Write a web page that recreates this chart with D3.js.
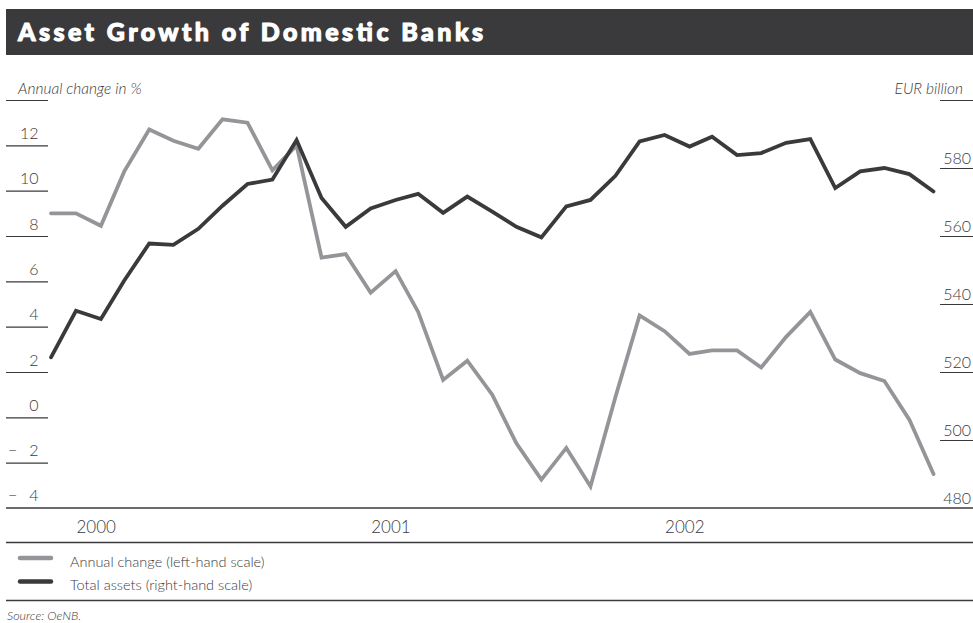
<!DOCTYPE html>
<html>
<head>
<meta charset="utf-8">
<script src="https://cdn.jsdelivr.net/npm/d3@7"></script>
<style>
  html, body { margin: 0; padding: 0; background: #fff; }
  svg { display: block; }
  text { font-family: Lato, "Open Sans", "DejaVu Sans", sans-serif; fill: #3a3a3c; }
</style>
</head>
<body>
<svg id="chart" width="973" height="623"></svg>
<script>
// Monthly observations, December 1999 to December 2002
const startMonth = new Date(1999, 11, 1);
const endMonth = new Date(2002, 11, 1);
const months = d3.timeMonth.range(startMonth, d3.timeMonth.offset(endMonth, 1));

// Annual change in %, left-hand scale
const annualChange = [
  9.0, 9.0, 8.45, 10.85, 12.7, 12.2, 11.85, 13.15, 13.0, 10.9,
  12.0, 7.05, 7.2, 5.5, 6.45, 4.65, 1.65, 2.5, 1.0, -1.15,
  -2.75, -1.35, -3.05, 0.9, 4.5, 3.8, 2.8, 2.95, 2.95, 2.2,
  3.55, 4.65, 2.55, 1.95, 1.6, -0.1, -2.5
];

// Total assets in EUR billion, right-hand scale
const totalAssets = [
  524.3, 538.0, 535.6, 546.9, 557.8, 557.4, 562.1, 568.9, 575.3, 576.6,
  588.2, 571.2, 562.7, 568.1, 570.6, 572.4, 566.8, 571.6, 567.2, 562.7,
  559.6, 568.7, 570.6, 577.7, 587.8, 589.7, 586.3, 589.2, 583.8, 584.4,
  587.4, 588.5, 574.1, 579.0, 580.0, 578.2, 573.1
];

const leftTicks = [-4, -2, 0, 2, 4, 6, 8, 10, 12, 14];
const rightTicks = [480, 500, 520, 540, 560, 580, 600];
const yearTicks = [new Date(2000, 0, 1), new Date(2001, 0, 1), new Date(2002, 0, 1)];

const seriesNames = ["Annual change (left-hand scale)", "Total assets (right-hand scale)"];
const titleText = "Asset Growth of Domestic Banks";
const leftUnit = "Annual change in %";
const rightUnit = "EUR billion";
const sourceText = "Source: OeNB.";

const colorChange = "#939598";
const colorAssets = "#3a3a3c";
const ruleColor = "#3a3a3c";

const svg = d3.select("#chart");
const W = 973;

// Title bar
svg.append("rect")
  .attr("x", 6).attr("y", 9).attr("width", W - 6).attr("height", 46)
  .attr("fill", "#3a3a3c");
svg.append("text")
  .attr("x", 18).attr("y", 41)
  .attr("textLength", 465).attr("lengthAdjust", "spacing")
  .style("font-size", "25px").style("font-weight", 900)
  .style("fill", "#ffffff")
  .style("stroke", "#ffffff").style("stroke-width", 1.1).style("stroke-linejoin", "round")
  .text(titleText);

// Scales
const plotTop = 100, plotBottom = 508;
const x = d3.scaleTime().domain([startMonth, endMonth]).range([51, 933.5]);
const yLeft = d3.scaleLinear().domain([-4, 14]).range([plotBottom, plotTop]);
const yRight = d3.scaleLinear().domain([480, 600]).range([plotBottom, plotTop]);

const minusFmt = v => v < 0 ? "\u2212\u2003" + Math.abs(v) : String(v);
const tickFont = "16px";

// Left scale: short rules with the value written above each one
const leftAxis = d3.axisRight(yLeft)
  .tickValues(leftTicks.filter(v => v > -4))
  .tickSize(42)
  .tickFormat(v => v === 14 ? "" : minusFmt(v));
const gL = svg.append("g").attr("transform", "translate(6,0)").call(leftAxis);
gL.select(".domain").remove();
gL.selectAll(".tick line").attr("stroke", ruleColor).attr("stroke-width", 1.2);
gL.selectAll(".tick text")
  .attr("x", 32.5).attr("dy", null).attr("y", -7)
  .attr("text-anchor", "end")
  .style("font-size", tickFont).style("font-weight", 300)
  .style("fill", "#3a3a3c");

// Bottom-left label for -4 sits above the base rule
svg.append("text")
  .attr("x", 38.5).attr("y", plotBottom - 7)
  .attr("text-anchor", "end")
  .style("font-size", tickFont).style("font-weight", 300)
  .text(minusFmt(leftTicks[0]));

// Right scale
const rightAxis = d3.axisLeft(yRight)
  .tickValues(rightTicks.filter(v => v > 480))
  .tickSize(33)
  .tickFormat(v => v === 600 ? "" : String(v));
const gR = svg.append("g").attr("transform", `translate(${W},0)`).call(rightAxis);
gR.select(".domain").remove();
gR.selectAll(".tick line").attr("stroke", ruleColor).attr("stroke-width", 1.2);
gR.selectAll(".tick text")
  .attr("x", -2).attr("dy", null).attr("y", -4.5)
  .attr("text-anchor", "end")
  .style("font-size", tickFont).style("font-weight", 300)
  .style("fill", "#3a3a3c");
svg.append("text")
  .attr("x", W - 2).attr("y", plotBottom - 4.5)
  .attr("text-anchor", "end")
  .style("font-size", tickFont).style("font-weight", 300)
  .text(String(rightTicks[0]));

// Unit captions
svg.append("text")
  .attr("x", 18).attr("y", 94)
  .style("font-size", "15.5px").style("font-style", "italic").style("font-weight", 300)
  .text(leftUnit);
svg.append("text")
  .attr("x", 963).attr("y", 94).attr("text-anchor", "end")
  .style("font-size", "15.5px").style("font-style", "italic").style("font-weight", 300)
  .text(rightUnit);

// Base rule and year labels
svg.append("line")
  .attr("x1", 6).attr("x2", W).attr("y1", plotBottom).attr("y2", plotBottom)
  .attr("stroke", ruleColor).attr("stroke-width", 1.4);

const xAxis = d3.axisBottom(x)
  .tickValues(yearTicks)
  .tickSize(0)
  .tickFormat(d3.timeFormat("%Y"));
const gX = svg.append("g").attr("transform", `translate(0,${plotBottom})`).call(xAxis);
gX.select(".domain").remove();
gX.selectAll(".tick text")
  .attr("text-anchor", "start").attr("dy", null).attr("y", 25)
  .style("font-size", "17px").style("font-weight", 300)
  .style("fill", "#3a3a3c");

svg.append("line")
  .attr("x1", 6).attr("x2", W).attr("y1", 542.5).attr("y2", 542.5)
  .attr("stroke", ruleColor).attr("stroke-width", 1.4);

// Data lines
const lineLeft = d3.line().x((d, i) => x(months[i])).y(d => yLeft(d));
const lineRight = d3.line().x((d, i) => x(months[i])).y(d => yRight(d));

svg.append("path")
  .datum(annualChange)
  .attr("d", lineLeft)
  .attr("fill", "none").attr("stroke", colorChange)
  .attr("stroke-width", 3.8).attr("stroke-linejoin", "miter").attr("stroke-linecap", "round");

svg.append("path")
  .datum(totalAssets)
  .attr("d", lineRight)
  .attr("fill", "none").attr("stroke", colorAssets)
  .attr("stroke-width", 3.8).attr("stroke-linejoin", "miter").attr("stroke-linecap", "round");

// Legend
const legend = svg.append("g");
const legendColors = [colorChange, colorAssets];
const legendRows = [558, 581.5];
seriesNames.forEach((name, i) => {
  legend.append("line")
    .attr("x1", 20).attr("x2", 51).attr("y1", legendRows[i]).attr("y2", legendRows[i])
    .attr("stroke", legendColors[i]).attr("stroke-width", 4.5).attr("stroke-linecap", "round");
  legend.append("text")
    .attr("x", 70).attr("y", legendRows[i] + 8.5)
    .style("font-size", "14.5px").style("font-weight", 300)
    .text(name);
});

svg.append("line")
  .attr("x1", 6).attr("x2", W).attr("y1", 600.5).attr("y2", 600.5)
  .attr("stroke", ruleColor).attr("stroke-width", 1.4);

svg.append("text")
  .attr("x", 7).attr("y", 620)
  .style("font-size", "12.5px").style("font-style", "italic").style("font-weight", 300)
  .text(sourceText);
</script>
</body>
</html>
